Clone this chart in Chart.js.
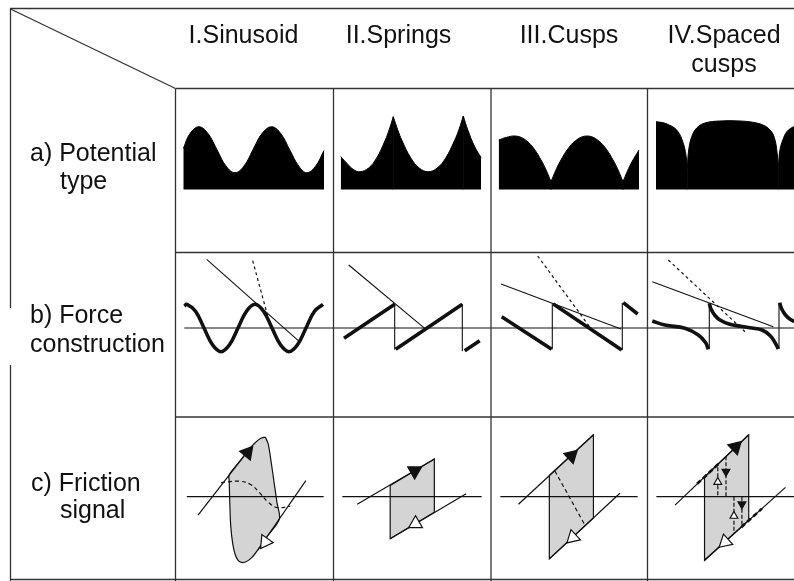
<!DOCTYPE html>
<html lang="en">
<head>
<meta charset="UTF-8">
<title>Potential type, force construction and friction signal</title>
<style>
    html, body { margin: 0; padding: 0; background: #fff; }
    body {
        width: 794px;
        height: 581px;
        overflow: hidden;
        position: relative;
        font-family: "Liberation Sans", Arial, sans-serif;
        color: #111;
    }
    .title {
        position: absolute;
        width: 200px;
        font-size: 25px;
        line-height: 29px;
        text-align: center;
        white-space: nowrap;
    }
    .label {
        position: absolute;
        font-size: 25px;
        line-height: 25px;
        white-space: nowrap;
    }
    canvas { position: absolute; }
    #frame { position: absolute; left: 0; top: 0; pointer-events: none; }
</style>
</head>
<body>
<div id="stage"></div>

<svg id="frame" width="794" height="581">
    <g stroke="#333" stroke-width="1.3" fill="none">
        <line x1="10" y1="8.5" x2="794" y2="8.5"/>
        <line x1="10.5" y1="8.5" x2="10.5" y2="308"/>
        <line x1="10.5" y1="365" x2="10.5" y2="581"/>
        <line x1="10.5" y1="9" x2="175.5" y2="88.5"/>
        <line x1="175.5" y1="88.5" x2="794" y2="88.5"/>
        <line x1="175.5" y1="88.5" x2="175.5" y2="581"/>
        <line x1="333.5" y1="88.5" x2="333.5" y2="581"/>
        <line x1="491" y1="88.5" x2="491" y2="581"/>
        <line x1="647.5" y1="88.5" x2="647.5" y2="581"/>
        <line x1="175" y1="252.5" x2="794" y2="252.5"/>
        <line x1="175" y1="417" x2="794" y2="417"/>
        <line x1="10" y1="579.5" x2="794" y2="579.5"/>
    </g>
</svg>

<script src="https://cdn.jsdelivr.net/npm/chart.js"></script>
<script>
// ---- text ----
const columnTitles = [['I.Sinusoid'], ['II.Springs'], ['III.Cusps'], ['IV.Spaced', 'cusps']];
const rowLabels = [['a) Potential', 'type'], ['b) Force', 'construction'], ['c) Friction', 'signal']];

// ---- a) potential type (x, y in cell units, y = 0 on the base line) ----
const sinusoidPotential = [
    {x: 0.83, y: 4.1}, {x: 1.5, y: 5.6}, {x: 2.4, y: 6.28}, {x: 3.3, y: 5.6}, {x: 4.2, y: 3.98},
    {x: 5.1, y: 2.35}, {x: 6.0, y: 1.68}, {x: 6.9, y: 2.35}, {x: 7.8, y: 3.98}, {x: 8.7, y: 5.6},
    {x: 9.67, y: 6.28}, {x: 10.57, y: 5.6}, {x: 11.47, y: 3.98}, {x: 12.37, y: 2.35}, {x: 13.17, y: 1.68},
    {x: 14.07, y: 2.35}, {x: 14.9, y: 3.9}
];
const springArchA = [
    {x: 0.77, y: 3.3}, {x: 1.45, y: 2.55}, {x: 2.08, y: 1.97}, {x: 2.7, y: 1.78}, {x: 3.53, y: 2.12},
    {x: 4.37, y: 3.16}, {x: 5.2, y: 4.88}, {x: 5.62, y: 5.98}, {x: 6.03, y: 7.28}
];
const springArchB = [
    {x: 6.03, y: 7.28}, {x: 6.47, y: 5.98}, {x: 6.9, y: 4.89}, {x: 7.78, y: 3.16}, {x: 8.65, y: 2.13},
    {x: 9.53, y: 1.78}, {x: 10.4, y: 2.13}, {x: 11.28, y: 3.16}, {x: 12.15, y: 4.89}, {x: 12.59, y: 5.98},
    {x: 13.03, y: 7.35}
];
const springArchC = [{x: 13.03, y: 7.35}, {x: 13.5, y: 5.9}, {x: 14.15, y: 4.32}, {x: 14.8, y: 3.2}];
const springCusps = [{x: 6.03, y: 0}, {x: 6.03, y: 7.28}, {x: 6.03, y: null}, {x: 13.03, y: 0}, {x: 13.03, y: 7.35}];

const cuspArchA = [
    {x: 0.77, y: 4.95}, {x: 1.5, y: 5.2}, {x: 2.4, y: 5.35}, {x: 3.3, y: 5.06}, {x: 4.2, y: 4.21},
    {x: 5.1, y: 2.78}, {x: 5.55, y: 1.86}, {x: 6.0, y: 0.78}
];
const cuspArchB = [
    {x: 6.0, y: 0.78}, {x: 6.45, y: 1.86}, {x: 6.9, y: 2.78}, {x: 7.8, y: 4.21}, {x: 8.7, y: 5.06},
    {x: 9.6, y: 5.35}, {x: 10.5, y: 5.06}, {x: 11.4, y: 4.21}, {x: 12.3, y: 2.78}, {x: 12.75, y: 1.86},
    {x: 13.2, y: 0.78}
];
const cuspArchC = [{x: 13.2, y: 0.78}, {x: 13.65, y: 1.86}, {x: 14.1, y: 2.78}, {x: 14.8, y: 3.95}];
const cuspCusps = [{x: 6.0, y: 0}, {x: 6.0, y: 0.78}, {x: 6.0, y: null}, {x: 13.2, y: 0}, {x: 13.2, y: 0.78}];

const spacedArchA = [
    {x: 0.9, y: 6.78}, {x: 1.5, y: 6.7}, {x: 2.0, y: 6.55}, {x: 2.97, y: 5.95}, {x: 3.63, y: 4.62},
    {x: 3.97, y: 2.95}, {x: 4.03, y: 2.12}
];
const spacedArchB = [
    {x: 4.03, y: 2.12}, {x: 4.17, y: 3.95}, {x: 4.47, y: 5.28}, {x: 4.97, y: 6.15}, {x: 5.8, y: 6.65},
    {x: 7.3, y: 6.85}, {x: 9.3, y: 6.85}, {x: 10.8, y: 6.68}, {x: 11.8, y: 6.35}, {x: 12.47, y: 5.75},
    {x: 12.8, y: 4.95}, {x: 13.0, y: 3.75}, {x: 13.13, y: 2.25}
];
const spacedArchC = [
    {x: 13.13, y: 2.25}, {x: 13.3, y: 4.0}, {x: 13.6, y: 5.0}, {x: 14.0, y: 5.8}, {x: 14.7, y: 6.3},
    {x: 15.5, y: 6.6}
];
const spacedCusps = [{x: 4.03, y: 0}, {x: 4.03, y: 2.12}, {x: 4.03, y: null}, {x: 13.13, y: 0}, {x: 13.13, y: 2.25}];

// ---- b) force construction (y = 0 on the force axis) ----
const forceAxisSpan = [[0.93, 15.8], [0, 15.8], [0, 15.6], [0, 15.8]];
const sinusoidForce = [
    {x: 0.93, y: 2.2}, {x: 1.2, y: 2.37}, {x: 2.05, y: 1.68}, {x: 2.9, y: 0}, {x: 3.75, y: -1.68},
    {x: 4.6, y: -2.37}, {x: 5.45, y: -1.68}, {x: 6.3, y: 0}, {x: 7.15, y: 1.68}, {x: 8.0, y: 2.37},
    {x: 8.85, y: 1.68}, {x: 9.7, y: 0}, {x: 10.55, y: -1.68}, {x: 11.4, y: -2.37}, {x: 12.25, y: -1.68},
    {x: 13.1, y: 0}, {x: 13.95, y: 1.68}, {x: 14.8, y: 2.37}
];
const sinusoidTangent = [{x: 3.17, y: 6.87}, {x: 12.33, y: -1.27}];
const sinusoidSteep = [{x: 7.77, y: 6.73}, {x: 9.33, y: 0.97}];

const springForce = [
    {x: 1.1, y: -1.03}, {x: 6.17, y: 2.37}, {x: 6.17, y: null},
    {x: 6.27, y: -2.13}, {x: 12.93, y: 2.37}, {x: 12.93, y: null},
    {x: 13.17, y: -2.27}, {x: 14.67, y: -1.27}
];
const springJumps = [
    {x: 6.17, y: 2.37}, {x: 6.17, y: -2.13}, {x: 6.17, y: null},
    {x: 12.93, y: 2.37}, {x: 12.93, y: -2.27}
];
const springTangent = [{x: 1.57, y: 6.3}, {x: 9.17, y: -0.03}];

const cuspForce = [
    {x: 1.07, y: 1.13}, {x: 6.07, y: -2.13}, {x: 6.07, y: null},
    {x: 6.23, y: 2.4}, {x: 13.07, y: -2.2}, {x: 13.07, y: null},
    {x: 13.23, y: 2.53}, {x: 14.67, y: 1.4}
];
const cuspJumps = [
    {x: 6.13, y: -2.13}, {x: 6.13, y: 2.47}, {x: 6.13, y: null},
    {x: 13.13, y: -2.2}, {x: 13.13, y: 2.53}
];
const cuspTangent = [{x: 1.0, y: 4.4}, {x: 13.0, y: -0.1}];
const cuspSteep = [{x: 4.67, y: 7.2}, {x: 9.9, y: 0.07}];

const spacedForce = [
    {x: 0.53, y: 0.7}, {x: 1.8, y: 0.3}, {x: 3.8, y: -0.03}, {x: 5.13, y: -0.7}, {x: 5.85, y: -1.45},
    {x: 6.13, y: -2.13}, {x: 6.13, y: null},
    {x: 6.23, y: 2.47}, {x: 6.4, y: 1.9}, {x: 6.8, y: 1.25}, {x: 7.3, y: 0.8}, {x: 8.2, y: 0.4},
    {x: 9.5, y: 0.15}, {x: 10.5, y: 0.0}, {x: 11.5, y: -0.2}, {x: 12.3, y: -0.75}, {x: 12.8, y: -1.45},
    {x: 13.13, y: -2.1}, {x: 13.13, y: null},
    {x: 13.27, y: 2.53}, {x: 13.45, y: 1.95}, {x: 13.85, y: 1.3}, {x: 14.35, y: 0.85}, {x: 15.25, y: 0.45}
];
const spacedJumps = [
    {x: 6.23, y: -2.13}, {x: 6.23, y: 2.47}, {x: 6.23, y: null},
    {x: 13.2, y: -2.1}, {x: 13.2, y: 2.53}
];
const spacedTangent = [{x: 0.53, y: 4.63}, {x: 12.63, y: 0.13}];
const spacedSteep = [{x: 2.13, y: 6.8}, {x: 9.8, y: -0.37}];

// ---- c) friction signal (y = 0 on the signal axis) ----
const signalAxisSpan = [[0.3, 15.8], [0, 15.8], [0, 15.6], [0, 15.8]];
const sinusoidLoop = [
    {x: 9.17, y: 6.72}, {x: 9.5, y: 5.98}, {x: 9.83, y: 3.98}, {x: 10.17, y: 1.65}, {x: 10.5, y: -0.68},
    {x: 10.77, y: -2.52}, {x: 9.5, y: -4.35}, {x: 8.33, y: -6.02}, {x: 7.67, y: -6.85}, {x: 7.0, y: -7.35},
    {x: 6.5, y: -7.42}, {x: 6.1, y: -7.18}, {x: 5.77, y: -6.52}, {x: 5.5, y: -5.35}, {x: 5.27, y: -3.35},
    {x: 5.17, y: -1.02}, {x: 5.1, y: 1.65}, {x: 5.1, y: 2.48}, {x: 6.22, y: 3.9}, {x: 7.33, y: 5.32},
    {x: 8.0, y: 6.05}, {x: 8.67, y: 6.58}, {x: 9.17, y: 6.72}
];
const sinusoidStick = [{x: 1.57, y: -2.08}, {x: 7.33, y: 5.32}];
const sinusoidSlip = [{x: 8.33, y: -6.02}, {x: 13.77, y: 1.82}];
const sinusoidPath = [
    {x: 4.17, y: 1.58}, {x: 6.17, y: 1.75}, {x: 7.5, y: 1.38}, {x: 8.5, y: 0.48}, {x: 9.5, y: -0.62},
    {x: 10.5, y: -1.22}, {x: 12.0, y: -1.08}
];
const sinusoidArrowUp = [{x: 7.17, y: 4.98}];
const sinusoidArrowDown = [{x: 9.17, y: -5.1}];

const springLoop = [{x: 5.43, y: 1.25}, {x: 10.43, y: 4.25}, {x: 10.43, y: -1.75}, {x: 5.43, y: -4.75}, {x: 5.43, y: 1.25}];
const springStick = [{x: 1.7, y: -0.85}, {x: 10.43, y: 4.25}];
const springSlip = [{x: 5.43, y: -4.75}, {x: 14.03, y: 0.32}];
const springArrowUp = [{x: 8.2, y: 2.9}];
const springArrowDown = [{x: 8.3, y: -3.05}];

const cuspLoop = [{x: 5.57, y: 2.4}, {x: 10.57, y: 6.98}, {x: 10.57, y: -2.4}, {x: 5.57, y: -7.02}, {x: 5.57, y: 2.4}];
const cuspStick = [{x: 2.07, y: -0.85}, {x: 10.57, y: 6.98}];
const cuspSlip = [{x: 5.57, y: -7.02}, {x: 13.57, y: 0.38}];
const cuspPath = [{x: 6.2, y: 2.9}, {x: 9.63, y: -3.25}];
const cuspArrowUp = [{x: 8.07, y: 4.6}];
const cuspArrowDown = [{x: 8.23, y: -4.6}];

const spacedLoop = [{x: 5.47, y: 2.22}, {x: 10.47, y: 6.98}, {x: 10.47, y: -2.66}, {x: 5.47, y: -7.18}, {x: 5.47, y: 2.22}];
const spacedStick = [{x: 2.13, y: -0.95}, {x: 10.47, y: 6.98}];
const spacedSlip = [{x: 5.47, y: -7.18}, {x: 14.63, y: 1.05}];
const spacedStickBold = [{x: 4.63, y: 1.45}, {x: 7.03, y: 3.68}];
const spacedSlipBold = [{x: 9.63, y: -3.44}, {x: 11.97, y: -1.35}];
const spacedSmallJumps = [
    {x: 6.97, y: 0.15}, {x: 6.97, y: 3.65}, {x: 6.97, y: null},
    {x: 7.9, y: 4.55}, {x: 7.9, y: 0}, {x: 7.9, y: null},
    {x: 8.8, y: 0}, {x: 8.8, y: -4.18}, {x: 8.8, y: null},
    {x: 9.7, y: 0}, {x: 9.7, y: -3.38}
];
const spacedArrowUp = [{x: 8.97, y: 5.6}];
const spacedArrowDown = [{x: 7.8, y: -5.1}];
const spacedSmallUp = [{x: 6.97, y: 1.65}, {x: 8.8, y: -2.18}];
const spacedSmallDown = [{x: 7.9, y: 2.82}, {x: 9.7, y: -0.85}];

// ---- layout ----
const UNIT = 10;                       // pixels per data unit inside a cell
const colX = [175, 333, 491, 647];
const colW = [158, 158, 156, 158];
const rowY = [88, 252, 417];
const rowH = [164, 165, 162];
const rowZero = [189.5, 328, 496.5];   // pixel row of y = 0 in each band
const INK = '#111';
const GREY = '#d4d4d4';

columnTitles.forEach((lines, i) => {
    const centers = [243.5, 398.5, 569, 724];
    const d = document.createElement('div');
    d.className = 'title';
    d.style.left = (centers[i] - 100) + 'px';
    d.style.top = '19.5px';
    d.innerHTML = lines.join('<br>');
    document.body.appendChild(d);
});

const labelPos = [[[30, 139.5], [60, 167.8]], [[30, 302], [30, 330.5]], [[31, 469.5], [60, 497]]];
rowLabels.forEach((lines, r) => {
    lines.forEach((text, k) => {
        const d = document.createElement('div');
        d.className = 'label';
        d.style.left = labelPos[r][k][0] + 'px';
        d.style.top = labelPos[r][k][1] + 'px';
        d.textContent = text;
        document.body.appendChild(d);
    });
});

// ---- dataset helpers ----
function stroke(data, width, dash, tension, color) {
    return {
        data, showLine: true, fill: false, pointRadius: 0,
        borderColor: color || INK, borderWidth: width || 1.2,
        borderDash: dash || [], tension: tension || 0,
        borderCapStyle: 'butt', borderJoinStyle: 'round'
    };
}
function area(data) {
    return {
        data, showLine: true, fill: 'origin', pointRadius: 0,
        backgroundColor: '#000', borderColor: '#000', borderWidth: 1, tension: 0.4
    };
}
// closes the hairline seam where two filled arches meet at a cusp
function seam(data) {
    return stroke(data, 1.2, [], 0, '#000');
}
function shape(data, tension) {
    return {
        data, showLine: true, fill: 'shape', pointRadius: 0,
        backgroundColor: GREY, borderColor: INK, borderWidth: 1.2, tension: tension || 0
    };
}
function arrow(data, rotation, color, radius) {
    return {
        data, showLine: false, pointStyle: 'triangle',
        pointRadius: radius, pointRotation: rotation,
        pointBackgroundColor: color, pointBorderColor: INK, pointBorderWidth: 1.2
    };
}
function axis(span) {
    return stroke([{x: span[0], y: 0}, {x: span[1], y: 0}], 1.2);
}

function drawCell(col, row, datasets) {
    const c = document.createElement('canvas');
    c.width = colW[col];
    c.height = rowH[row];
    c.style.left = colX[col] + 'px';
    c.style.top = rowY[row] + 'px';
    document.getElementById('stage').appendChild(c);
    new Chart(c, {
        type: 'scatter',
        data: { datasets },
        options: {
            responsive: false,
            animation: false,
            events: [],
            layout: { padding: 0 },
            plugins: { legend: { display: false }, tooltip: { enabled: false } },
            scales: {
                x: { type: 'linear', display: false, min: 0, max: colW[col] / UNIT },
                y: {
                    type: 'linear', display: false,
                    min: -(rowY[row] + rowH[row] - rowZero[row]) / UNIT,
                    max: (rowZero[row] - rowY[row]) / UNIT
                }
            }
        }
    });
}

// a) potential type
drawCell(0, 0, [area(sinusoidPotential)]);
drawCell(1, 0, [seam(springCusps), area(springArchA), area(springArchB), area(springArchC)]);
drawCell(2, 0, [seam(cuspCusps), area(cuspArchA), area(cuspArchB), area(cuspArchC)]);
drawCell(3, 0, [seam(spacedCusps), area(spacedArchA), area(spacedArchB), area(spacedArchC)]);

// b) force construction
drawCell(0, 1, [
    stroke(sinusoidSteep, 1.2, [3, 3]),
    stroke(sinusoidTangent, 1.1),
    stroke(sinusoidForce, 3.6, [], 0.4),
    axis(forceAxisSpan[0])
]);
drawCell(1, 1, [
    stroke(springTangent, 1.1),
    stroke(springForce, 3.6),
    stroke(springJumps, 1.1),
    axis(forceAxisSpan[1])
]);
drawCell(2, 1, [
    stroke(cuspSteep, 1.2, [3, 3]),
    stroke(cuspTangent, 1.1),
    stroke(cuspForce, 3.6),
    stroke(cuspJumps, 1.1),
    axis(forceAxisSpan[2])
]);
drawCell(3, 1, [
    stroke(spacedSteep, 1.2, [3, 3]),
    stroke(spacedTangent, 1.1),
    stroke(spacedForce, 3.6, [], 0.4),
    stroke(spacedJumps, 1.1),
    axis(forceAxisSpan[3])
]);

// c) friction signal
drawCell(0, 2, [
    arrow(sinusoidArrowUp, 40, INK, 8),
    arrow(sinusoidArrowDown, 215, '#fff', 8),
    stroke(sinusoidPath, 1.2, [4, 3], 0.4),
    stroke(sinusoidStick, 1.2),
    stroke(sinusoidSlip, 1.2),
    axis(signalAxisSpan[0]),
    shape(sinusoidLoop, 0.3)
]);
drawCell(1, 2, [
    arrow(springArrowUp, 60, INK, 8),
    arrow(springArrowDown, 240, '#fff', 8),
    stroke(springStick, 1.2),
    stroke(springSlip, 1.2),
    axis(signalAxisSpan[1]),
    shape(springLoop)
]);
drawCell(2, 2, [
    arrow(cuspArrowUp, 47, INK, 8),
    arrow(cuspArrowDown, 227, '#fff', 8),
    stroke(cuspPath, 1.2, [4, 3]),
    stroke(cuspStick, 1.2),
    stroke(cuspSlip, 1.2),
    axis(signalAxisSpan[2]),
    shape(cuspLoop)
]);
drawCell(3, 2, [
    arrow(spacedArrowUp, 46, INK, 8),
    arrow(spacedArrowDown, 228, '#fff', 8),
    arrow(spacedSmallUp, 0, '#fff', 4.5),
    arrow(spacedSmallDown, 180, INK, 4.5),
    stroke(spacedSmallJumps, 1.2, [4, 2]),
    stroke(spacedStickBold, 2.6, [5, 3]),
    stroke(spacedSlipBold, 2.6, [5, 3]),
    stroke(spacedStick, 1.2),
    stroke(spacedSlip, 1.2),
    axis(signalAxisSpan[3]),
    shape(spacedLoop)
]);
</script>
</body>
</html>
